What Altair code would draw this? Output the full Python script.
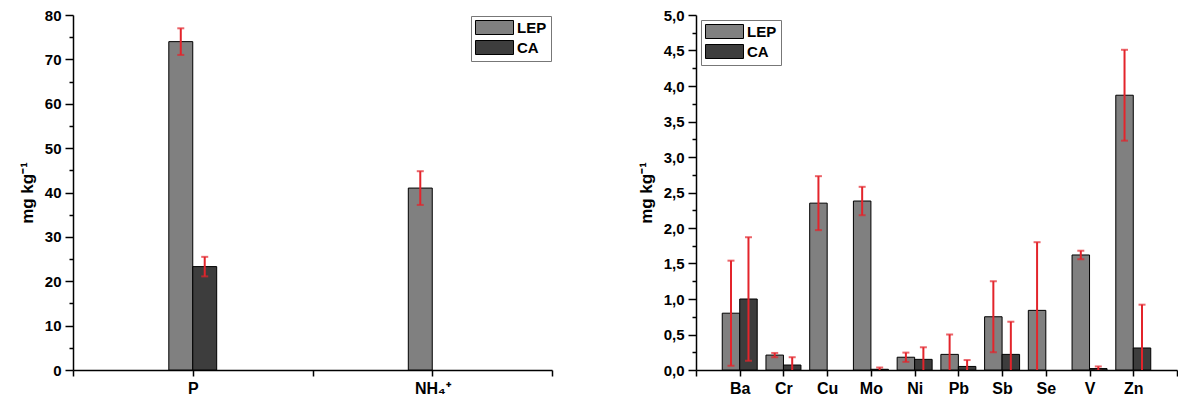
import json
import altair as alt
import pandas as pd

# ---------------- data ----------------
series = ["LEP", "CA"]
series_colors = ["#808080", "#3d3d3d"]
err_color = "#e3242b"

left_cats = ["P", "NH₄⁺"]
left_lep = [74.0, 41.0]
left_lep_err = [3.0, 3.8]
left_ca = [23.3, None]
left_ca_err = [2.2, None]
left_y_major = [0, 10, 20, 30, 40, 50, 60, 70, 80]
left_y_minor = [5, 15, 25, 35, 45, 55, 65, 75]

right_cats = ["Ba", "Cr", "Cu", "Mo", "Ni", "Pb", "Sb", "Se", "V", "Zn"]
right_lep = [0.80, 0.21, 2.35, 2.38, 0.18, 0.22, 0.75, 0.84, 1.62, 3.87]
right_lep_err = [0.74, 0.03, 0.38, 0.20, 0.065, 0.28, 0.50, 0.96, 0.06, 0.64]
right_ca = [1.00, 0.07, None, 0.01, 0.15, 0.05, 0.22, None, 0.02, 0.31]
right_ca_err = [0.87, 0.11, None, 0.025, 0.17, 0.09, 0.46, None, 0.03, 0.61]
right_y_major = [0, 0.5, 1, 1.5, 2, 2.5, 3, 3.5, 4, 4.5, 5]
right_y_minor = [0.25, 0.75, 1.25, 1.75, 2.25, 2.75, 3.25, 3.75, 4.25, 4.75]

FONT = "Liberation Sans"
AX = dict(labelFont=FONT, labelFontWeight="bold", labelColor="black",
          domainColor="black", domainWidth=1.5, tickColor="black", tickWidth=1.5,
          grid=False, labelOverlap=False)


def build(cats, lep, lep_e, ca, ca_e, step, width):
    rows = []
    for i, c in enumerate(cats):
        pos = 1 + step * i
        for s, v, e in (("LEP", lep[i], lep_e[i]), ("CA", ca[i], ca_e[i])):
            if v is None:
                continue
            x0 = pos - width if s == "LEP" else pos
            x1 = x0 + width
            rows.append(dict(cat=c, series=s, value=v, lo=v - e, hi=v + e,
                             x0=x0, x1=x1, xc=(x0 + x1) / 2))
    return pd.DataFrame(rows)


def label_array(cats, step, n):
    arr = [""] * n
    for i, c in enumerate(cats):
        arr[1 + step * i] = c
    return json.dumps(arr)


def panel(df, xdom, xticks, xlabel_expr, ydom, ymajor, yminor, ylabel_expr,
          legend_orient, legend_offset, w, h):
    base = alt.Chart(df)
    yscale = alt.Scale(domain=ydom, nice=False)
    xaxis = alt.Axis(values=xticks, labelExpr=xlabel_expr, title=None,
                     tickSize=6, labelPadding=4, labelFontSize=16, labelAngle=0, **AX)
    yaxis = alt.Axis(values=ymajor, labelExpr=ylabel_expr, title="mg kg⁻¹",
                     tickSize=8, labelPadding=4, labelFontSize=15, titleFontSize=17,
                     titlePadding=8, titleFont=FONT, titleFontWeight="bold",
                     titleColor="black", orient="left", **AX)
    yaxis_minor = alt.Axis(values=yminor, labels=False, domain=False, title=None,
                           tickSize=4, tickColor="black", tickWidth=1.5, grid=False,
                           orient="left")
    bars = base.mark_bar(stroke="black", strokeWidth=1).encode(
        x=alt.X("x0:Q", scale=alt.Scale(domain=xdom, nice=False, zero=False), axis=xaxis),
        x2="x1:Q",
        y=alt.Y("value:Q", scale=yscale, axis=yaxis),
        y2=alt.datum(0),
        color=alt.Color("series:N", scale=alt.Scale(domain=series, range=series_colors),
                        legend=alt.Legend(
                            title=None, orient=legend_orient, offset=legend_offset,
                            symbolType="M-1,-1H4.43V1H-1Z", symbolSize=196,
                            symbolStrokeColor="black", symbolStrokeWidth=1,
                            symbolOpacity=1, labelOffset=27,
                            labelFont=FONT, labelFontWeight="bold", labelFontSize=15,
                            strokeColor="#777", fillColor="white", padding=4,
                            rowPadding=1)),
    )
    rule = base.mark_rule(color=err_color, strokeWidth=2, clip=True).encode(
        x="xc:Q", y=alt.Y("lo:Q", axis=None), y2="hi:Q")
    cap_hi = base.mark_tick(color=err_color, orient="horizontal", size=7,
                            thickness=2, clip=True).encode(
        x="xc:Q", y=alt.Y("hi:Q", axis=None))
    cap_lo = base.mark_tick(color=err_color, orient="horizontal", size=7,
                            thickness=2, clip=True).encode(
        x="xc:Q", y=alt.Y("lo:Q", axis=yaxis_minor))
    return alt.layer(bars, rule, cap_hi, cap_lo).resolve_axis(y="independent").properties(
        width=w, height=h)


left_df = build(left_cats, left_lep, left_lep_err, left_ca, left_ca_err, 2, 0.2)
right_df = build(right_cats, right_lep, right_lep_err, right_ca, right_ca_err, 1, 0.4)

left = panel(
    left_df, [0, 4], [0, 1, 2, 3, 4],
    label_array(left_cats, 2, 5) + "[datum.value] || ''",
    [0, 80], left_y_major, left_y_minor, "datum.label",
    "top-right", 1, 479, 355)

right_xticks = [i * 0.5 for i in range(23)]
right = panel(
    right_df, [0, 11], right_xticks,
    "datum.value % 1 === 0 ? (" + label_array(right_cats, 1, 12) + "[datum.value] || '') : ''",
    [0, 5], right_y_major, right_y_minor,
    "replace(format(datum.value, '.1f'), '.', ',')",
    "top-left", 5, 481, 355)

chart = alt.hconcat(left, right, spacing=84).resolve_scale(color="independent").properties(
    padding={"left": 18, "top": 8, "right": 0, "bottom": 0},
    background="white",
).configure_view(stroke=None)

chart.save("out.html", embed_options={"renderer": "svg", "actions": False})
